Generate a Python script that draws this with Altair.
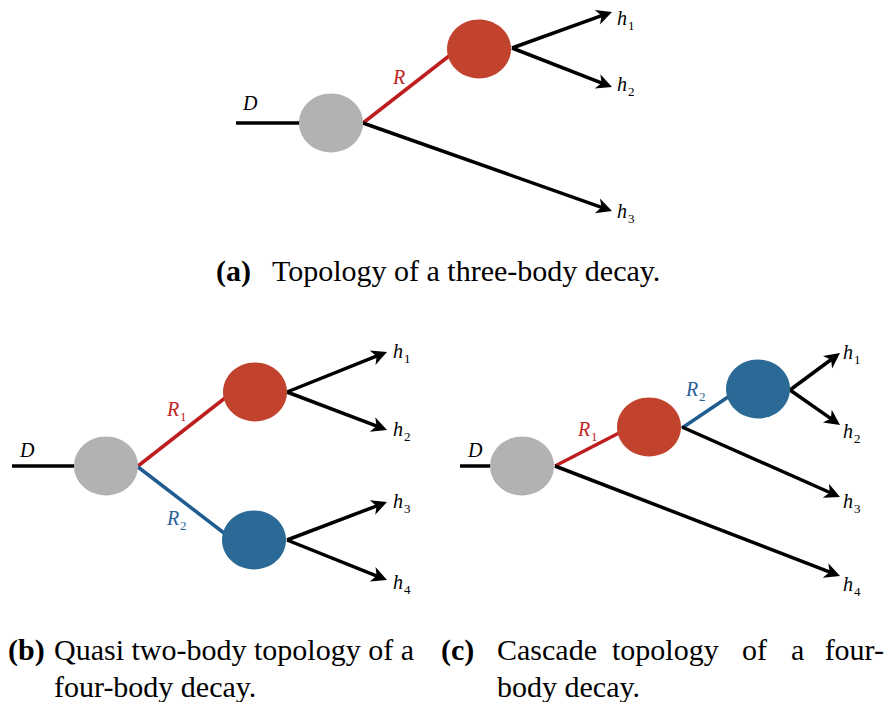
import altair as alt
import pandas as pd
import numpy as np

GRAY = "#B2B2B2"
RED = "#C1432D"
BLUE = "#2B6A96"
RED_LINE = "#BF1E1E"
BLUE_LINE = "#1F5D91"
RED_TXT = "#C0241F"
BLUE_TXT = "#2A6199"
BLACK = "#000000"
SERIF = "Liberation Serif"

# ---- blobs (decay vertices) ----
node_x = [331, 479, 106, 255, 254, 522, 649, 758]
node_y = [123, 49, 466, 392, 540, 466, 427, 389]
node_color = [GRAY, RED, GRAY, RED, BLUE, GRAY, RED, BLUE]

# ---- incoming D lines ----
d_x1 = [236, 12, 460]
d_x2 = [300, 75, 491]
d_y = [123, 466, 466]

# ---- resonance propagators ----
res_x1 = [363, 138, 138, 555, 682]
res_y1 = [123, 466, 467, 466, 428]
res_x2 = [449, 225, 224, 619, 728]
res_y2 = [56, 398, 533, 433, 397]
res_color = [RED_LINE, RED_LINE, BLUE_LINE, RED_LINE, BLUE_LINE]

# ---- outgoing tracks (start -> arrow tip) ----
trk_x1 = [512, 512, 363, 287, 287, 287, 287, 790, 790, 682, 555]
trk_y1 = [48, 48, 123, 392, 392, 540, 540, 390, 390, 427, 466]
trk_x2 = [612, 612, 612, 387, 387, 387, 387, 840, 840, 840, 840]
trk_y2 = [12, 87, 211, 352, 430, 502, 580, 353, 425, 497, 576]

# ---- italic labels ----
lab_text = ["D", "R", "h", "h", "h",
            "D", "R", "R", "h", "h", "h", "h",
            "D", "R", "R", "h", "h", "h", "h"]
lab_x = [243, 393, 617, 617, 617,
         20, 167, 167, 393, 393, 393, 393,
         468, 578, 686, 843, 843, 843, 843]
lab_y = [104, 78, 19, 85, 212,
         451, 410, 519, 352, 430, 502, 583,
         451, 430, 390, 353, 432, 502, 585]
lab_color = [BLACK, RED_TXT, BLACK, BLACK, BLACK,
             BLACK, RED_TXT, BLUE_TXT, BLACK, BLACK, BLACK, BLACK,
             BLACK, RED_TXT, BLUE_TXT, BLACK, BLACK, BLACK, BLACK]

# ---- subscripts ----
sub_text = ["1", "2", "3",
            "1", "2", "1", "2", "3", "4",
            "1", "2", "1", "2", "3", "4"]
sub_x = [628, 628, 628,
         180, 180, 404, 404, 404, 404,
         591, 699, 854, 854, 854, 854]
sub_y = [26, 92, 219,
         417, 526, 359, 437, 509, 590,
         437, 397, 360, 439, 509, 592]
sub_color = [BLACK, BLACK, BLACK,
             RED_TXT, BLUE_TXT, BLACK, BLACK, BLACK, BLACK,
             RED_TXT, BLUE_TXT, BLACK, BLACK, BLACK, BLACK]

# ---- captions ----
cap_bold_text = ["(a)", "(b)", "(c)"]
cap_bold_x = [216, 8, 441]
cap_bold_y = [281, 660, 660]

cap_text = ["Topology of a three-body decay.",
            "Quasi two-body topology of a", "four-body decay.",
            "Cascade", "topology", "of", "a",
            "body decay."]
cap_x = [272, 54, 54, 497, 612, 742, 791, 497]
cap_y = [281, 660, 697, 660, 660, 660, 660, 697]

cap_right_text = ["four-"]
cap_right_x = [884]
cap_right_y = [660]

# ---------------- build tables ----------------
nodes = pd.DataFrame({"x": node_x, "y": node_y, "c": node_color})
dlines = pd.DataFrame({"x": d_x1, "x2": d_x2, "y": d_y, "y2": d_y})
res = pd.DataFrame({"x": res_x1, "y": res_y1, "x2": res_x2, "y2": res_y2, "c": res_color})

tx1 = np.array(trk_x1, float); ty1 = np.array(trk_y1, float)
tx2 = np.array(trk_x2, float); ty2 = np.array(trk_y2, float)
dx = tx2 - tx1; dy = ty2 - ty1
L = np.hypot(dx, dy)
ux, uy = dx / L, dy / L
tracks = pd.DataFrame({"x": tx1, "y": ty1, "x2": tx2 - 8 * ux, "y2": ty2 - 8 * uy})
arrows = pd.DataFrame({"x": tx2, "y": ty2,
                       "ang": np.mod(np.degrees(np.arctan2(dy, dx)), 360)})

labels = pd.DataFrame({"t": lab_text, "x": lab_x, "y": lab_y, "c": lab_color})
subs = pd.DataFrame({"t": sub_text, "x": sub_x, "y": sub_y, "c": sub_color})
capb = pd.DataFrame({"t": cap_bold_text, "x": cap_bold_x, "y": cap_bold_y})
capr = pd.DataFrame({"t": cap_text, "x": cap_x, "y": cap_y})
capR = pd.DataFrame({"t": cap_right_text, "x": cap_right_x, "y": cap_right_y})

xs = alt.Scale(domain=[8, 885], nice=False, zero=False)
ys = alt.Scale(domain=[8, 702], nice=False, zero=False, reverse=True)
X = lambda f="x": alt.X(f"{f}:Q", scale=xs, axis=None)
Y = lambda f="y": alt.Y(f"{f}:Q", scale=ys, axis=None)

dl = alt.Chart(dlines).mark_rule(strokeWidth=3.5, color=BLACK).encode(
    x=X(), x2="x2:Q", y=Y(), y2="y2:Q")
rl = alt.Chart(res).mark_rule(strokeWidth=3.5).encode(
    x=X(), x2="x2:Q", y=Y(), y2="y2:Q", color=alt.Color("c:N", scale=None))
tl = alt.Chart(tracks).mark_rule(strokeWidth=3.5, color=BLACK).encode(
    x=X(), x2="x2:Q", y=Y(), y2="y2:Q")

ELLIPSE = "M-1,0 A1,0.92 0 1,1 1,0 A1,0.92 0 1,1 -1,0 Z"
bl = alt.Chart(nodes).mark_point(shape=ELLIPSE, filled=True, opacity=1, size=4096,
                                  strokeWidth=0).encode(
    x=X(), y=Y(), color=alt.Color("c:N", scale=None))

ARROW = "M0,0 L-1,-0.5 L-0.72,0 L-1,0.5 Z"
al = alt.Chart(arrows).mark_point(shape=ARROW, filled=True, opacity=1, size=960,
                                   strokeWidth=0, color=BLACK).encode(
    x=X(), y=Y(), angle=alt.Angle("ang:Q", scale=None))

lt = alt.Chart(labels).mark_text(font=SERIF, fontStyle="italic", fontSize=20,
                                 align="left", baseline="middle").encode(
    x=X(), y=Y(), text="t:N", color=alt.Color("c:N", scale=None))
st = alt.Chart(subs).mark_text(font=SERIF, fontSize=13,
                               align="left", baseline="middle").encode(
    x=X(), y=Y(), text="t:N", color=alt.Color("c:N", scale=None))

CAP = 30
cb = alt.Chart(capb).mark_text(font=SERIF, fontWeight="bold", fontSize=CAP,
                               align="left", baseline="alphabetic", color=BLACK).encode(
    x=X(), y=Y(), text="t:N")
cr = alt.Chart(capr).mark_text(font=SERIF, fontSize=CAP,
                               align="left", baseline="alphabetic", color=BLACK).encode(
    x=X(), y=Y(), text="t:N")
crr = alt.Chart(capR).mark_text(font=SERIF, fontSize=CAP,
                                align="right", baseline="alphabetic", color=BLACK).encode(
    x=X(), y=Y(), text="t:N")

chart = alt.layer(dl, rl, tl, bl, al, lt, st, cb, cr, crr).properties(
    width=877, height=694, padding=0,
    autosize=alt.AutoSizeParams(type="none"),
    background="white",
).configure_view(stroke=None)

chart.save("out.html", embed_options={"renderer": "svg", "actions": False})
